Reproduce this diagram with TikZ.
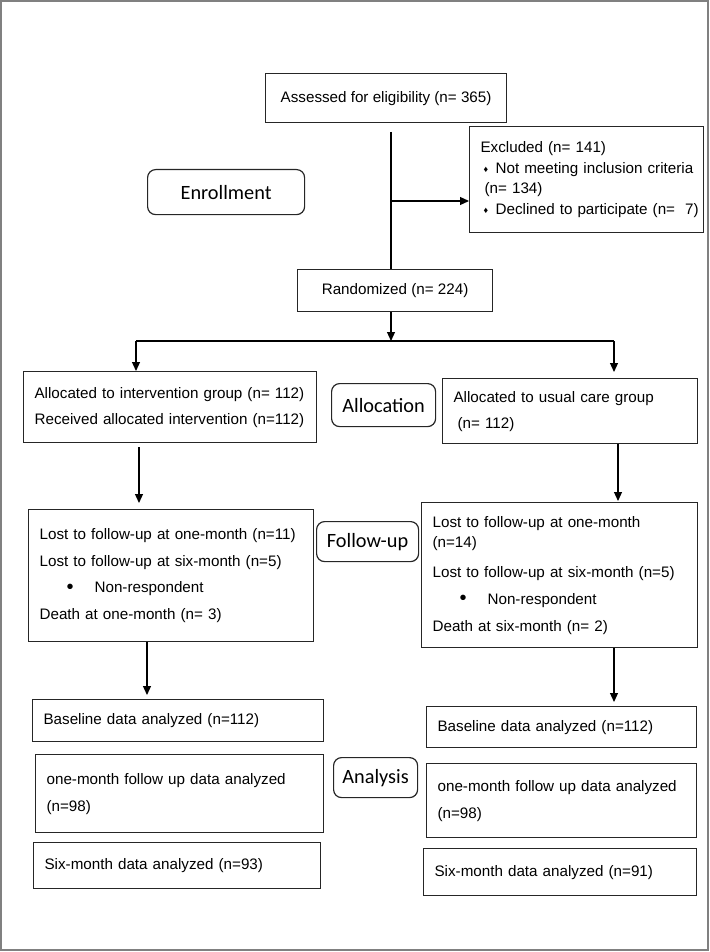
\documentclass[tikz,border=0pt]{standalone}
\usepackage{fontspec}
\setmainfont{Liberation Sans}
\newfontfamily\labfont{Carlito}
\usetikzlibrary{arrows.meta}
\newcommand\dia{\makebox[15pt][l]{\hspace*{3pt}\raisebox{1pt}{\fontsize{9}{9}\selectfont ♦}}}
\newcommand\bul{\makebox[55pt][l]{\hspace*{27pt}\raisebox{-0.5pt}{\fontsize{20}{20}\selectfont •}}}
\begin{document}
\begin{tikzpicture}[x=1pt,y=-1pt,
  box/.style={draw=black!85, line width=1.2pt, rectangle, anchor=north west, align=left,
    inner xsep=11pt, inner ysep=0pt, font=\fontsize{15.2}{26.5}\selectfont},
  cbox/.style={box, align=center},
  lab/.style={draw=black!85, line width=1.2pt, rounded corners=8pt, anchor=north west,
    inner sep=0pt, font=\labfont\fontsize{20.3}{24}\selectfont},
  line/.style={line width=1.2pt},
  arr/.style={line, -{Triangle[length=9pt,width=8pt]}}]
\useasboundingbox (0,0) rectangle (709,952);
\draw[gray, line width=1.5pt] (1,1) rectangle (708,950);

% boxes
\node[cbox, minimum width=241pt, minimum height=49pt] (assess) at (265,73) {Assessed for eligibility (n= 365)};
\node[box, minimum width=234pt, minimum height=106pt, text width=212pt,
  font=\fontsize{15.2}{20.5}\selectfont] (excl) at (469,126)
  {\mbox{Excluded (n= 141)}\\ \mbox{\dia Not meeting inclusion criteria}\\ \mbox{\hspace*{4pt}(n= 134)}\\ \mbox{\dia Declined to participate (n=\ \ 7)}};
\node[cbox, minimum width=195pt, minimum height=42pt] (randm) at (297,269) {Randomized (n= 224)};

\node[box, minimum width=293pt, minimum height=71pt, text width=271pt, font=\fontsize{15.2}{26}\selectfont] (allocL) at (23,371)
  {\mbox{Allocated to intervention group (n= 112)}\\ \mbox{Received allocated intervention (n=112)}};
\node[box, minimum width=255pt, minimum height=65pt, text width=233pt, font=\fontsize{15.2}{26}\selectfont] (allocR) at (442,378)
  {Allocated to usual care group\\ \hspace*{4pt}(n= 112)};

\node[box, minimum width=285pt, minimum height=132pt, text width=263pt] (fuL) at (28,509)
  {\mbox{Lost to follow-up at one-month (n=11)}\\ \mbox{Lost to follow-up at six-month (n=5)}\\ \bul Non-respondent\\ Death at one-month (n= 3)};
\node[box, minimum width=276pt, minimum height=145pt, text width=254pt, font=\fontsize{15.2}{20}\selectfont] (fuR) at (421,502)
  {Lost to follow-up at one-month\\ (n=14)\\[10pt] \mbox{Lost to follow-up at six-month (n=5)}\\[7pt] \bul Non-respondent\\[7pt] Death at six-month (n= 2)};

\node[box, minimum width=291pt, minimum height=42pt, text width=269pt] (baseL) at (32,699) {Baseline data analyzed (n=112)};
\node[box, minimum width=288pt, minimum height=78pt, text width=266pt, font=\fontsize{15.2}{27}\selectfont] (oneL) at (35,754)
  {\mbox{one-month follow up data analyzed}\\ (n=98)};
\node[box, minimum width=287pt, minimum height=46pt, text width=265pt] (sixL) at (33,842) {Six-month data analyzed (n=93)};

\node[box, minimum width=270pt, minimum height=41pt, text width=248pt] (baseR) at (426,706) {Baseline data analyzed (n=112)};
\node[box, minimum width=270pt, minimum height=74pt, text width=248pt, font=\fontsize{15.2}{27}\selectfont] (oneR) at (426,763)
  {\mbox{one-month follow up data analyzed}\\ (n=98)};
\node[box, minimum width=273pt, minimum height=47pt, text width=251pt] (sixR) at (423,848) {Six-month data analyzed (n=91)};

% stage labels
\node[lab, minimum width=157pt, minimum height=45pt] (enroll) at (147,169) {Enrollment};
\node[lab, minimum width=104pt, minimum height=43pt] (allocT) at (331,383) {Allocation};
\node[lab, minimum width=102pt, minimum height=40pt] (follow) at (316,521) {Follow-up};
\node[lab, minimum width=84pt, minimum height=40pt] (analys) at (333,757) {Analysis};

% connectors
\coordinate (a1) at (391,132);
\coordinate (a2) at (391,201);
\coordinate (hb) at (391,341);
\coordinate (hl) at (136,341);
\coordinate (hr) at (614,341);
\coordinate (c1) at (139,0);
\coordinate (c2) at (618,0);
\coordinate (c3) at (147,0);
\coordinate (c4) at (614,0);
\draw[line] (a1) -- (a1 |- randm.north);
\draw[arr] (a2) -- (a2 -| excl.west);
\draw[arr] (a1 |- randm.south) -- (hb);
\draw[line] (hl) -- (hr);
\draw[arr] (hl) -- (hl |- allocL.north);
\draw[arr, shorten >=6pt] (hr) -- (hr |- allocR.north);
\draw[arr, shorten <=4pt, shorten >=6pt] (allocL.south -| c1) -- (fuL.north -| c1);
\draw[arr, shorten >=1pt] (allocR.south -| c2) -- (fuR.north -| c2);
\draw[arr, shorten >=4pt] (fuL.south -| c3) -- (baseL.north -| c3);
\draw[arr, shorten >=4pt] (fuR.south -| c4) -- (baseR.north -| c4);
\end{tikzpicture}
\end{document}
